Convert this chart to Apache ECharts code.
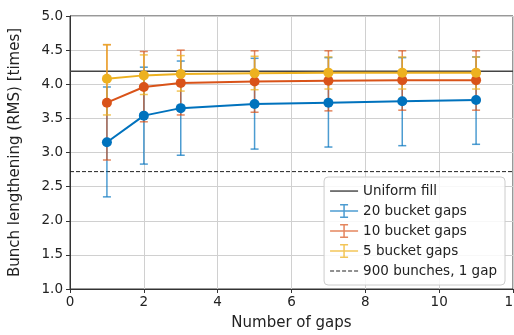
<!DOCTYPE html>
<html><head><meta charset="utf-8">
<script src="https://cdn.jsdelivr.net/npm/echarts@6/dist/echarts.min.js"></script>
<style>html,body{margin:0;padding:0;background:#fff}#c{width:514px;height:335px}</style>
</head><body><div id="c"></div>
<script>
const gaps = [1, 2, 3, 5, 7, 9, 11];
const g20 = [3.15, 3.54, 3.65, 3.71, 3.73, 3.75, 3.77];
const g20lo = [2.35, 2.83, 2.96, 3.05, 3.08, 3.10, 3.12];
const g20hi = [3.96, 4.25, 4.34, 4.38, 4.39, 4.39, 4.40];
const g10 = [3.73, 3.96, 4.02, 4.04, 4.05, 4.06, 4.06];
const g10lo = [2.89, 3.45, 3.55, 3.59, 3.61, 3.62, 3.62];
const g10hi = [4.58, 4.48, 4.50, 4.49, 4.49, 4.49, 4.49];
const g5 = [4.08, 4.13, 4.15, 4.16, 4.17, 4.17, 4.17];
const g5lo = [3.55, 3.85, 3.90, 3.92, 3.93, 3.93, 3.93];
const g5hi = [4.58, 4.43, 4.42, 4.41, 4.40, 4.40, 4.40];
const uniformFill = 4.19;
const oneGap900 = 2.72;
const xRange = [0, 12];

const FONT = 'DejaVu Sans';
const C20 = '#0072BD', C10 = '#D95319', C5 = '#EDB120';
const E20 = 'rgba(0,114,189,0.7)', E10 = 'rgba(217,83,25,0.7)', E5 = 'rgba(237,177,32,0.75)';

function pts(ys){ return gaps.map((x,i)=>[x, ys[i]]); }
function errs(lo, hi){ return gaps.map((x,i)=>[x, lo[i], hi[i]]); }
function errRender(color){
  return function(params, api){
    const x = api.value(0);
    const p1 = api.coord([x, api.value(1)]);
    const p2 = api.coord([x, api.value(2)]);
    const w = 4;
    const st = {stroke: color, lineWidth: 1.5};
    return {type:'group', children:[
      {type:'line', shape:{x1:p1[0], y1:p1[1], x2:p2[0], y2:p2[1]}, style:st},
      {type:'line', shape:{x1:p1[0]-w, y1:p1[1], x2:p1[0]+w, y2:p1[1]}, style:st},
      {type:'line', shape:{x1:p2[0]-w, y1:p2[1], x2:p2[0]+w, y2:p2[1]}, style:st}
    ]};
  };
}
const ERR_ICON = 'path://M0,6.25h28v1.5h-28zM13.25,0h1.5v14h-1.5zM10,0h8v1.5h-8zM10,12.5h8v1.5h-8z';
const LINE_ICON = 'path://M0,0M28,14M0,6.4h28v1.3h-28z';
const DASH_ICON = 'path://M0,0M28,14M0,6.4h4v1.2h-4zM6,6.4h4v1.2h-4zM12,6.4h4v1.2h-4zM18,6.4h4v1.2h-4zM24,6.4h4v1.2h-4z';

function mainSeries(name, ys, color){
  return {type:'line', name, data: pts(ys), symbol:'circle', symbolSize:10,
    lineStyle:{color, width:2}, itemStyle:{color}, z:4, animation:false};
}
function errSeries(name, lo, hi, color){
  return {type:'custom', name, data: errs(lo, hi), renderItem: errRender(color),
    encode:{x:0, y:[1,2]}, z:3, animation:false};
}

const chart = echarts.init(document.getElementById('c'), null, {renderer:'canvas'});
chart.setOption({
  animation:false,
  textStyle:{fontFamily:FONT},
  grid:{left:70, right:1, top:16, bottom:46, show:true, borderColor:'#333', borderWidth:1,
    containLabel:false, outerBoundsMode:'none'},
  xAxis:{type:'value', min:xRange[0], max:xRange[1], interval:2,
    name:'Number of gaps', nameLocation:'middle', nameGap:27,
    nameTextStyle:{fontFamily:FONT, fontSize:15, color:'#222'},
    axisLine:{lineStyle:{color:'#333'}}, axisTick:{show:true, length:4, lineStyle:{color:'#333'}},
    axisLabel:{fontFamily:FONT, fontSize:13.5, color:'#222', margin:6},
    splitLine:{show:true, lineStyle:{color:'#d0d0d0', width:1}}},
  yAxis:{type:'value', min:1, max:5, interval:0.5,
    name:'Bunch lengthening (RMS) [times]', nameLocation:'middle', nameGap:47,
    nameTextStyle:{fontFamily:FONT, fontSize:15, color:'#222'},
    axisLine:{show:true, lineStyle:{color:'#333'}}, axisTick:{show:true, length:4, lineStyle:{color:'#333'}},
    axisLabel:{fontFamily:FONT, fontSize:13.5, color:'#222', margin:7, formatter:v=>v.toFixed(1)},
    splitLine:{show:true, lineStyle:{color:'#d0d0d0', width:1}}},
  legend:{orient:'vertical', right:9, top:177, itemWidth:28, itemHeight:14, itemGap:6,
    padding:[7,8,7,6], backgroundColor:'rgba(255,255,255,0.85)', borderColor:'#ccc', borderWidth:1, borderRadius:4,
    textStyle:{fontFamily:FONT, fontSize:13.5, color:'#222'},
    data:[
      {name:'Uniform fill', icon:LINE_ICON, itemStyle:{color:'#333'}},
      {name:'20 bucket gaps', icon:ERR_ICON, itemStyle:{color:E20}},
      {name:'10 bucket gaps', icon:ERR_ICON, itemStyle:{color:E10}},
      {name:'5 bucket gaps', icon:ERR_ICON, itemStyle:{color:E5}},
      {name:'900 bunches, 1 gap', icon:DASH_ICON, itemStyle:{color:'#222'}}
    ]},
  series:[
    {type:'line', name:'Uniform fill', data:[[xRange[0], uniformFill],[xRange[1], uniformFill]],
      symbol:'none', lineStyle:{color:'#444', width:1.5}, itemStyle:{color:'#444'}, z:2, animation:false},
    {type:'line', name:'900 bunches, 1 gap', data:[[xRange[0], oneGap900],[xRange[1], oneGap900]],
      symbol:'none', lineStyle:{color:'#222', width:1, type:[4,2]}, itemStyle:{color:'#222'}, z:2, animation:false},
    errSeries('20 bucket gaps', g20lo, g20hi, E20),
    mainSeries('20 bucket gaps', g20, C20),
    errSeries('10 bucket gaps', g10lo, g10hi, E10),
    mainSeries('10 bucket gaps', g10, C10),
    errSeries('5 bucket gaps', g5lo, g5hi, E5),
    mainSeries('5 bucket gaps', g5, C5)
  ]
});
</script></body></html>
